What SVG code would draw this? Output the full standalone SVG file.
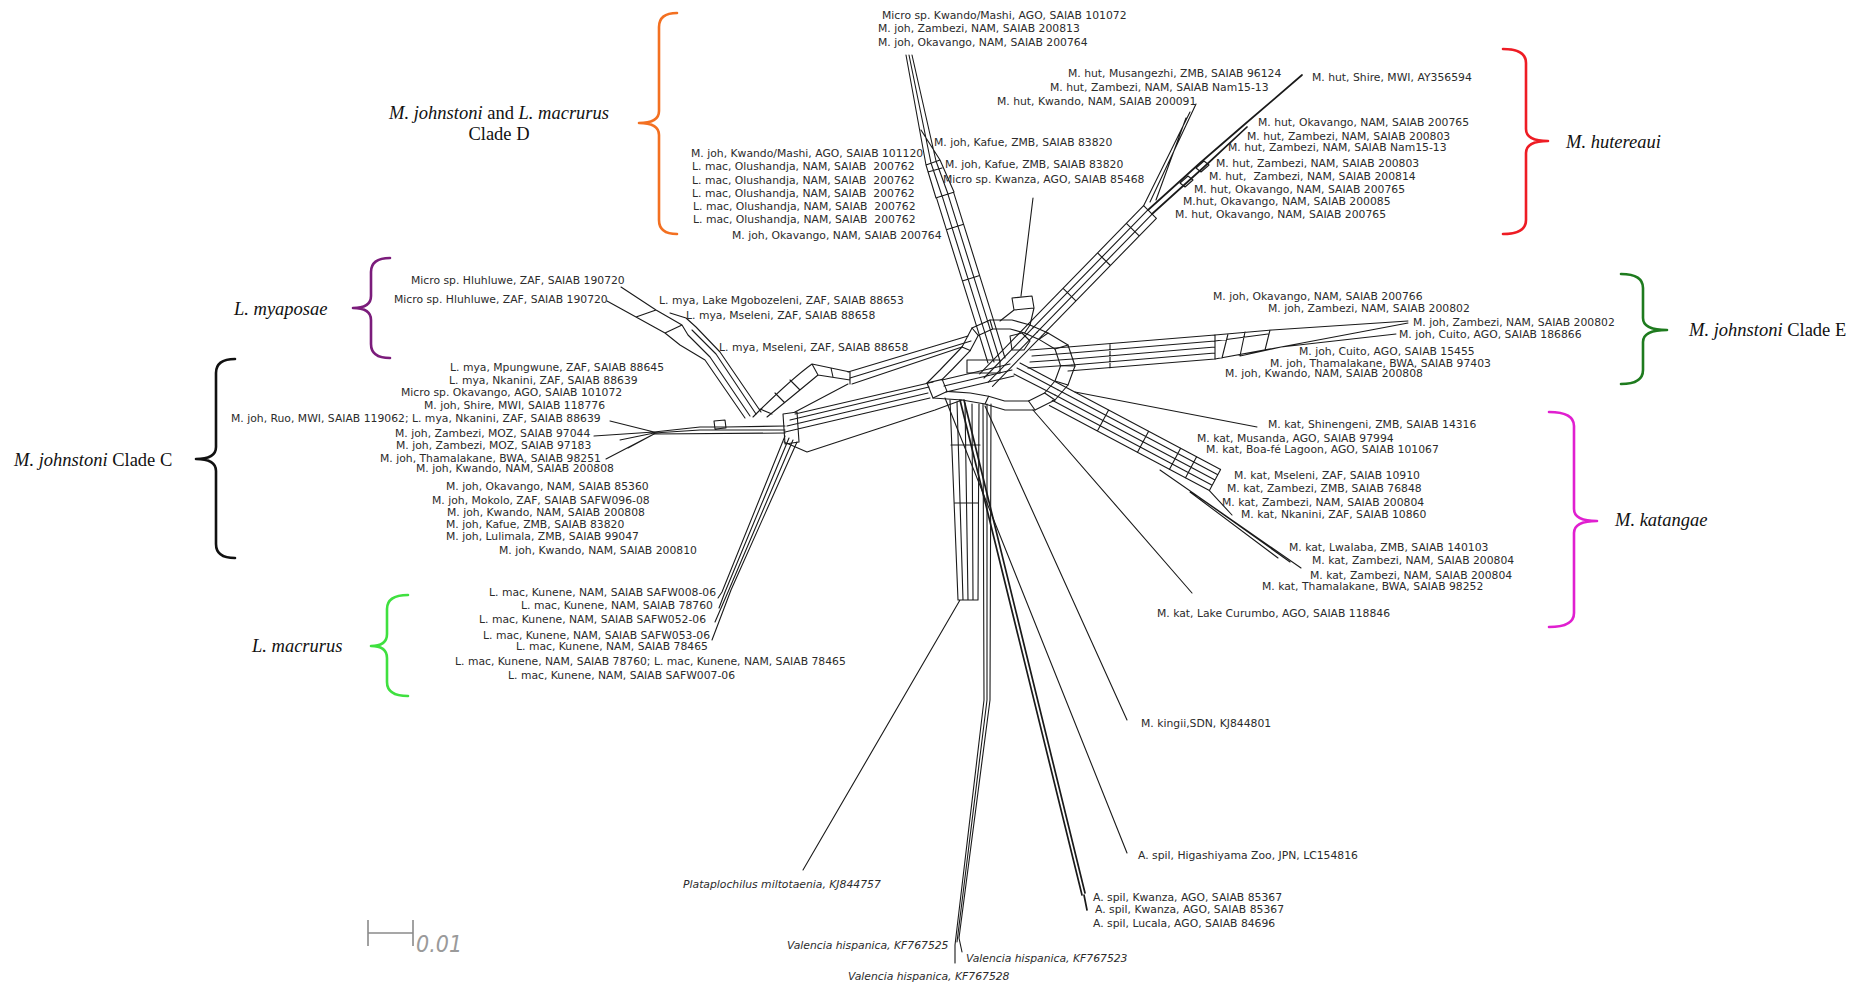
<svg xmlns="http://www.w3.org/2000/svg" width="1863" height="985" viewBox="0 0 1863 985">
<style>
.e{fill:none;stroke:#1a1a1a;stroke-width:1.1;stroke-linejoin:round;stroke-linecap:round}
.b{stroke-width:1.7}
.t{font-family:"DejaVu Sans",Verdana,sans-serif;font-size:10.8px;fill:#2b2b2b}
.ti{font-style:italic}
.c{font-family:"Liberation Serif","Times New Roman",serif;font-size:18.5px;fill:#111}
.i{font-style:italic}
.br{fill:none;stroke-width:2.6;stroke-linecap:round;stroke-linejoin:round}
</style>
<rect width="1863" height="985" fill="#fff"/>

<!-- splits network edges -->
<g id="network">
  <!-- central hub: outline, inner ring and the splits crossing it -->
  <path class="e" d="M927,383 L940,370 L962,347 L972,328 L990,320 L1012,320 L1030,325 L1048,333 L1068,345 L1075,366 L1068,385 L1055,400 L1035,410 L1005,410 L985,404 L962,400 L933,398 Z"/>
  <path class="e" d="M942.2,379.4 L952.6,369 L970.2,350.6 L978.2,335.4 L992.6,329 L1010.2,329 L1024.6,333 L1039,339.4 L1055,349 L1060.6,365.8 L1055,381 L1044.6,393 L1028.6,401 L1004.6,401 L988.6,396.2 L970.2,393 L947,391.4 Z"/>
  <path class="e" d="M927,383 L942.2,379.4 M962,347 L970.2,350.6 M972,328 L978.2,335.4 M990,320 L992.6,329 M1030,325 L1024.6,333 M1048,333 L1039,339.4 M1068,345 L1055,349 M1075,366 L1060.6,365.8 M1068,385 L1055,381 M1055,400 L1044.6,393 M1035,410 L1028.6,401 M985,404 L988.6,396.2 M933,398 L947,391.4"/>
  <path class="e" d="M1028.6,323.7 L979.7,373.8 M1032.9,327.9 L984,378 M1037.1,332.1 L988.2,382.2 M1041.4,336.3 L992.5,386.4"/>
  <path class="e" d="M942,380 L1010,364 M944,386 L1012,370 M946,392 L1014,376"/>
  <path class="e" d="M976.4,325.7 L988,363 M982.1,323.9 L994,362 M987.9,322.1 L1000,361 M993.6,320.3 L1005,358"/>
  <path class="e" d="M1068,347 L1030,350 M1071,353 L1032,356 M1073,359 L1030,362 M1072,365 L1028,368"/>
  <path class="e" d="M1060.6,384.4 L1020,363 M1057.8,389.7 L1017,368 M1055,395 L1014,374"/>
  <path class="e" d="M967,360 L1000,360 L1000,373 L967,373 Z M1010,336 L1022,333 L1030,341 L1024,350 L1012,350 Z"/>

  <!-- band towards clade D -->
  <path class="e" d="M976.4,325.7 L936.4,197.7 M982.1,323.9 L942.1,195.9 M987.9,322.1 L947.9,194.1 M993.6,320.3 L953.6,192.3 M962.4,280.9 L979.6,275.5 M946.4,229.7 L963.6,224.3 M936.4,197.7 L953.6,192.3"/>
  <path class="e" d="M936,198 L926,165 L906,55 M942,196 L931,163 L909,55 M948,194 L936,161 L912,55 M954,192 L940,160 L921,130 M926,165 L940,160 M928,172 L942,168"/>

  <!-- single edge above hub -->
  <path class="e" d="M1033,198 L1021,296 M1012,298 L1032,296 L1034,308 L1014,310 Z M1014,310 L1000,321 M1034,308 L1030,325"/>

  <!-- band towards M. hutereaui -->
  <path class="e" d="M1028.6,323.7 L1143.6,205.7 M1032.9,327.9 L1147.9,209.9 M1037.1,332.1 L1152.1,214.1 M1041.4,336.3 L1156.4,218.3 M1063.1,288.3 L1075.9,300.9 M1097.6,252.9 L1110.4,265.5 M1126.4,223.3 L1139.2,235.9 M1143.6,205.7 L1156.4,218.3"/>
  <path class="e b" d="M1148,210 L1200,163 L1245,124 L1302,75 M1152,214 L1204,167 L1247,127"/>
  <path class="e" d="M1196,168 L1204,161 L1209,165 L1201,172 Z M1180,183 L1188,176 L1193,180 L1185,187 Z"/>
  <path class="e" d="M1143.6,205.7 L1190,112 M1150,202 L1196,104 M1156,200 L1186,118"/>

  <!-- band towards clade E -->
  <path class="e" d="M1068,347 L1215,335 M1071,353 L1215,341 M1073,359 L1215,347 M1072,365 L1215,353 M1068,371 L1215,359 M1110,344 L1110,368 M1215,335 L1215,359"/>
  <path class="e" d="M1215,335 L1272,330 M1215,341 L1268,334 M1228,334 L1222,358 M1245,332 L1240,356 M1270,330 L1265,350 M1215,359 L1281,347 M1240,356 L1281,347 M1272,330 L1408,321 M1281,347 L1396,334 M1281,347 L1408,323"/>

  <!-- band towards M. katangae -->
  <path class="e" d="M1060.6,384.4 L1220.6,469.4 M1057.8,389.7 L1217.8,474.7 M1055,395 L1215,480 M1052.2,400.3 L1212.2,485.3 M1049.4,405.6 L1209.4,490.6 M1108.6,409.9 L1097.4,431.1 M1148.6,431.2 L1137.4,452.4 M1180.6,448.2 L1169.4,469.4 M1196.6,456.7 L1185.4,477.9 M1220.6,469.4 L1209.4,490.6"/>
  <path class="e" d="M1209.4,490.6 L1232,515 M1160,470 L1301,568 M1190,492 L1278,558 M1200,498 L1290,562"/>
  <path class="e" d="M1075,392 L1257,427 M1033,410 L1192,593"/>

  <!-- edges running down -->
  <path class="e" d="M985,406 L1127,720 M945,398 L1127,853"/>
  <path class="e b" d="M960,400 L1082,895 M964,400 L1085,893 M1084,895 L1087,910"/>
  <path class="e" d="M950,400 L958,600 M957,402 L963,600 M965,403 L968,600 M972,404 L973,600 M979,404 L978,600 M951,445 L980,445 M955,503 L978,503 M958,600 L978,600 M960,600 L803,870"/>
  <path class="e" d="M983,404 L984,700 L955,945 L955,963 M987,404 L987,700 L957,942 M991,404 L990,700 L959,938 L962,952"/>

  <!-- band to the left -->
  <path class="e" d="M933,382 L795,414 M929,387 L790,420 M928,393 L787,426 M930,398 L785,432 M962,400 L935,410 L807,452 L784,442 M783,414 L797,412 L799,442 L785,444 Z"/>
  <path class="e" d="M848,372 L968,336 M850,378 L971,341 M852,384 L962,347 M795,412 L848,384"/>
  <path class="e" d="M753,417 Q790,380 812,364 L850,372 M767,417 Q800,390 818,375 L850,380 M760,409 L772,414 M775,393 L784,402 M790,380 L800,390 M812,364 L818,375 M831,368 L833,377 M850,372 L850,384"/>

  <!-- clade C stem -->
  <path class="e" d="M785,426 L725,427 L700,427 L654,432 M785,430 L725,430 L700,430 L654,433 M785,433 L654,434 M714,421 L725,420 L726,428 L715,429 Z"/>
  <path class="e" d="M654,432 L610,421 M654,432 L594,436 M654,433 L620,440 M654,434 L606,459 M654,434 L628,448"/>

  <!-- L. myaposae band -->
  <path class="e" d="M745,418 L705,360 L680,345 L665,333 L607,301 M750,416 L710,357 L688,335 L682,325 L656,310 L621,287 M756,414 L716,354 L692,330 M761,412 L720,352 L696,327 L686,318 L670,313 M665,333 L682,325 M636,317 L656,310"/>

  <!-- L. macrurus band -->
  <path class="e" d="M785,436 L722,592 L718,598 M789,438 L725,592 L719,608 M793,440 L728,592 L715,622 M797,442 L731,590 L712,640"/>
</g>

<!-- taxa -->
<g id="taxa-top" class="t">
  <text x="882" y="19">Micro sp. Kwando/Mashi, AGO, SAIAB 101072</text>
  <text x="878" y="32">M. joh, Zambezi, NAM, SAIAB 200813</text>
  <text x="878" y="46">M. joh, Okavango, NAM, SAIAB 200764</text>
</g>
<g id="taxa-cladeD" class="t">
  <text x="934" y="146">M. joh, Kafue, ZMB, SAIAB 83820</text>
  <text x="691" y="157">M. joh, Kwando/Mashi, AGO, SAIAB 101120</text>
  <text x="692" y="170">L. mac, Olushandja, NAM, SAIAB &#160;200762</text>
  <text x="945" y="168">M. joh, Kafue, ZMB, SAIAB 83820</text>
  <text x="943" y="183">Micro sp. Kwanza, AGO, SAIAB 85468</text>
  <text x="692" y="184">L. mac, Olushandja, NAM, SAIAB &#160;200762</text>
  <text x="692" y="197">L. mac, Olushandja, NAM, SAIAB &#160;200762</text>
  <text x="693" y="210">L. mac, Olushandja, NAM, SAIAB &#160;200762</text>
  <text x="693" y="223">L. mac, Olushandja, NAM, SAIAB &#160;200762</text>
  <text x="732" y="239">M. joh, Okavango, NAM, SAIAB 200764</text>
</g>
<g id="taxa-hut" class="t">
  <text x="1068" y="77">M. hut, Musangezhi, ZMB, SAIAB 96124</text>
  <text x="1312" y="81">M. hut, Shire, MWI, AY356594</text>
  <text x="1050" y="91">M. hut, Zambezi, NAM, SAIAB Nam15-13</text>
  <text x="997" y="105">M. hut, Kwando, NAM, SAIAB 200091</text>
  <text x="1258" y="126">M. hut, Okavango, NAM, SAIAB 200765</text>
  <text x="1247" y="140">M. hut, Zambezi, NAM, SAIAB 200803</text>
  <text x="1228" y="151">M. hut, Zambezi, NAM, SAIAB Nam15-13</text>
  <text x="1216" y="167">M. hut, Zambezi, NAM, SAIAB 200803</text>
  <text x="1209" y="180">M. hut, &#160;Zambezi, NAM, SAIAB 200814</text>
  <text x="1194" y="193">M. hut, Okavango, NAM, SAIAB 200765</text>
  <text x="1183" y="205">M.hut, Okavango, NAM, SAIAB 200085</text>
  <text x="1175" y="218">M. hut, Okavango, NAM, SAIAB 200765</text>
</g>
<g id="taxa-mya" class="t">
  <text x="411" y="284">Micro sp. Hluhluwe, ZAF, SAIAB 190720</text>
  <text x="394" y="303">Micro sp. Hluhluwe, ZAF, SAIAB 190720</text>
  <text x="659" y="304">L. mya, Lake Mgobozeleni, ZAF, SAIAB 88653</text>
  <text x="686" y="319">L. mya, Mseleni, ZAF, SAIAB 88658</text>
  <text x="719" y="351">L. mya, Mseleni, ZAF, SAIAB 88658</text>
</g>
<g id="taxa-cladeC" class="t">
  <text x="450" y="371">L. mya, Mpungwune, ZAF, SAIAB 88645</text>
  <text x="449" y="384">L. mya, Nkanini, ZAF, SAIAB 88639</text>
  <text x="401" y="396">Micro sp. Okavango, AGO, SAIAB 101072</text>
  <text x="424" y="409">M. joh, Shire, MWI, SAIAB 118776</text>
  <text x="231" y="422">M. joh, Ruo, MWI, SAIAB 119062; L. mya, Nkanini, ZAF, SAIAB 88639</text>
  <text x="395" y="437">M. joh, Zambezi, MOZ, SAIAB 97044</text>
  <text x="396" y="449">M. joh, Zambezi, MOZ, SAIAB 97183</text>
  <text x="380" y="462">M. joh, Thamalakane, BWA, SAIAB 98251</text>
  <text x="416" y="472">M. joh, Kwando, NAM, SAIAB 200808</text>
  <text x="446" y="490">M. joh, Okavango, NAM, SAIAB 85360</text>
  <text x="432" y="504">M. joh, Mokolo, ZAF, SAIAB SAFW096-08</text>
  <text x="447" y="516">M. joh, Kwando, NAM, SAIAB 200808</text>
  <text x="446" y="528">M. joh, Kafue, ZMB, SAIAB 83820</text>
  <text x="446" y="540">M. joh, Lulimala, ZMB, SAIAB 99047</text>
  <text x="499" y="554">M. joh, Kwando, NAM, SAIAB 200810</text>
</g>
<g id="taxa-mac" class="t">
  <text x="489" y="596">L. mac, Kunene, NAM, SAIAB SAFW008-06</text>
  <text x="521" y="609">L. mac, Kunene, NAM, SAIAB 78760</text>
  <text x="479" y="623">L. mac, Kunene, NAM, SAIAB SAFW052-06</text>
  <text x="483" y="639">L. mac, Kunene, NAM, SAIAB SAFW053-06</text>
  <text x="516" y="650">L. mac, Kunene, NAM, SAIAB 78465</text>
  <text x="455" y="665">L. mac, Kunene, NAM, SAIAB 78760; L. mac, Kunene, NAM, SAIAB 78465</text>
  <text x="508" y="679">L. mac, Kunene, NAM, SAIAB SAFW007-06</text>
</g>
<g id="taxa-cladeE" class="t">
  <text x="1213" y="300">M. joh, Okavango, NAM, SAIAB 200766</text>
  <text x="1268" y="312">M. joh, Zambezi, NAM, SAIAB 200802</text>
  <text x="1413" y="326">M. joh, Zambezi, NAM, SAIAB 200802</text>
  <text x="1399" y="338">M. joh, Cuito, AGO, SAIAB 186866</text>
  <text x="1299" y="355">M. joh, Cuito, AGO, SAIAB 15455</text>
  <text x="1270" y="367">M. joh, Thamalakane, BWA, SAIAB 97403</text>
  <text x="1225" y="377">M. joh, Kwando, NAM, SAIAB 200808</text>
</g>
<g id="taxa-kat" class="t">
  <text x="1268" y="428">M. kat, Shinengeni, ZMB, SAIAB 14316</text>
  <text x="1197" y="442">M. kat, Musanda, AGO, SAIAB 97994</text>
  <text x="1206" y="453">M. kat, Boa-fé Lagoon, AGO, SAIAB 101067</text>
  <text x="1234" y="479">M. kat, Mseleni, ZAF, SAIAB 10910</text>
  <text x="1227" y="492">M. kat, Zambezi, ZMB, SAIAB 76848</text>
  <text x="1222" y="506">M. kat, Zambezi, NAM, SAIAB 200804</text>
  <text x="1241" y="518">M. kat, Nkanini, ZAF, SAIAB 10860</text>
  <text x="1289" y="551">M. kat, Lwalaba, ZMB, SAIAB 140103</text>
  <text x="1312" y="564">M. kat, Zambezi, NAM, SAIAB 200804</text>
  <text x="1310" y="579">M. kat, Zambezi, NAM, SAIAB 200804</text>
  <text x="1262" y="590">M. kat, Thamalakane, BWA, SAIAB 98252</text>
  <text x="1157" y="617">M. kat, Lake Curumbo, AGO, SAIAB 118846</text>
</g>
<g id="taxa-outgroups" class="t">
  <text x="1141" y="727">M. kingii,SDN, KJ844801</text>
  <text x="1138" y="859">A. spil, Higashiyama Zoo, JPN, LC154816</text>
  <text x="1093" y="901">A. spil, Kwanza, AGO, SAIAB 85367</text>
  <text x="1095" y="913">A. spil, Kwanza, AGO, SAIAB 85367</text>
  <text x="1093" y="927">A. spil, Lucala, AGO, SAIAB 84696</text>
  <text class="ti" x="683" y="888">Plataplochilus miltotaenia, KJ844757</text>
  <text class="ti" x="787" y="949">Valencia hispanica, KF767525</text>
  <text class="ti" x="966" y="962">Valencia hispanica, KF767523</text>
  <text class="ti" x="848" y="980">Valencia hispanica, KF767528</text>
</g>

<!-- clade brackets and names -->
<g id="clade-D">
  <path class="br" stroke="#f37021" d="M677,13 Q659,13 659,27 L659,111 Q659,123 639,123 Q659,123 659,135 L659,220 Q659,234 677,234"/>
  <text class="c" x="499" y="119" text-anchor="middle"><tspan class="i">M. johnstoni</tspan> and <tspan class="i">L. macrurus</tspan></text>
  <text class="c" x="499" y="140" text-anchor="middle">Clade D</text>
</g>
<g id="clade-mya">
  <path class="br" stroke="#7b1c7b" d="M390,258 Q371,258 371,272 L371,296 Q371,308 353,308 Q371,308 371,320 L371,344 Q371,358 390,358"/>
  <text class="c i" x="234" y="315">L. myaposae</text>
</g>
<g id="clade-C">
  <path class="br" stroke="#111" d="M235,359 Q216,359 216,373 L216,447 Q216,459 196,459 Q216,459 216,471 L216,544 Q216,558 235,558"/>
  <text class="c" x="14" y="466"><tspan class="i">M. johnstoni</tspan> Clade C</text>
</g>
<g id="clade-mac">
  <path class="br" stroke="#3fe03f" d="M408,595 Q387,595 387,609 L387,634 Q387,646 371,646 Q387,646 387,658 L387,682 Q387,696 408,696"/>
  <text class="c i" x="252" y="652">L. macrurus</text>
</g>
<g id="clade-hut">
  <path class="br" stroke="#ee1c24" d="M1503,49 Q1526,49 1526,63 L1526,129 Q1526,141 1548,141 Q1526,141 1526,153 L1526,220 Q1526,234 1503,234"/>
  <text class="c i" x="1566" y="148">M. hutereaui</text>
</g>
<g id="clade-E">
  <path class="br" stroke="#1e7b1e" d="M1621,274 Q1643,274 1643,288 L1643,318 Q1643,330 1667,330 Q1643,330 1643,342 L1643,370 Q1643,384 1621,384"/>
  <text class="c" x="1689" y="336"><tspan class="i">M. johnstoni</tspan> Clade E</text>
</g>
<g id="clade-kat">
  <path class="br" stroke="#e01fd0" d="M1549,412 Q1574,412 1574,426 L1574,509 Q1574,521 1597,521 Q1574,521 1574,533 L1574,613 Q1574,627 1549,627"/>
  <text class="c i" x="1615" y="526">M. katangae</text>
</g>

<!-- scale bar -->
<g id="scale-bar">
  <path fill="none" stroke="#8a8a8a" stroke-width="1.6" d="M368,920 L368,946 M368,933 L413,933 M413,920 L413,946"/>
  <text x="416" y="952" font-family="DejaVu Sans Condensed, DejaVu Sans, sans-serif" font-size="23" font-style="italic" fill="#9a9a9a">0.01</text>
</g>
</svg>
